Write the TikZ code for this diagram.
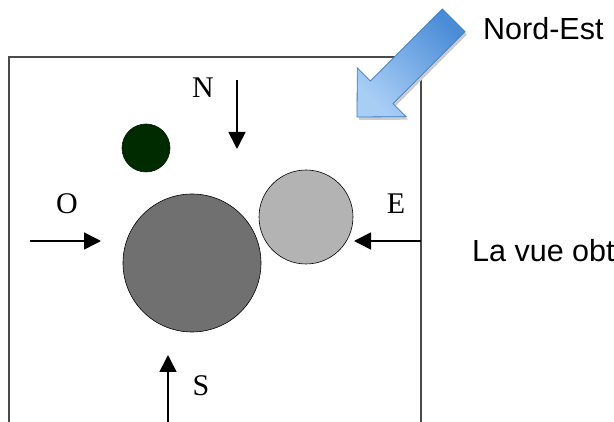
\documentclass[tikz,border=0pt]{standalone}
\usepackage{fontspec}
\setmainfont{Liberation Serif}
\newfontfamily\arialfont{Liberation Sans}
\usepackage{tikz}
\usetikzlibrary{arrows.meta}
\definecolor{boxgray}{HTML}{4A4A4A}
\definecolor{bigdisc}{HTML}{707070}
\definecolor{smalldisc}{HTML}{B3B3B3}
\definecolor{treedisc}{HTML}{002A00}
\definecolor{nedark}{HTML}{4A8CD6}
\definecolor{nelight}{HTML}{A9CEF6}
\definecolor{neline}{HTML}{3F7CC4}

\begin{document}
\begin{tikzpicture}[x=1pt, y=-1pt,
    disc/.style={circle, draw=black, line width=0.6pt, inner sep=0pt},
    dirlabel/.style={font=\fontsize{30}{34}\selectfont, inner sep=0pt},
    dirarrow/.style={line width=1.6pt, -{Triangle[length=17pt, width=17pt]}},
    sidetext/.style={font=\arialfont\fontsize{30.5}{34}\selectfont, anchor=base west, inner sep=0pt}
]
\useasboundingbox (0,0) rectangle (614,422);
% the scene
\draw[boxgray, line width=2pt] (9,440) -- (9,57) -- (421,57) -- (421,440);
\node[disc, fill=treedisc, draw=treedisc!60!black, minimum size=48pt](tree) at (146,148){};
\node[disc, fill=bigdisc, minimum size=138pt](bigrock) at (192,263){};
\node[disc, fill=smalldisc, minimum size=94pt](smallrock) at (306,217){};
% directions
\node[dirlabel](nlabel) at (203,88){N};
\node[dirlabel](olabel) at (67,204){O};
\node[dirlabel](elabel) at (396,204){E};
\node[dirlabel](slabel) at (201,386){S};
\coordinate (nstart) at (237,80);
\coordinate (nend) at (237,149);
\coordinate (ostart) at (30,241);
\coordinate (oend) at (101,241);
\coordinate (estart) at (421,241);
\coordinate (eend) at (354,241);
\coordinate (sstart) at (168,440);
\coordinate (send) at (168,355);
\draw[dirarrow] (nstart) -- (nend);
\draw[dirarrow] (ostart) -- (oend);
\draw[dirarrow] (estart) -- (eend);
\draw[dirarrow] (sstart) -- (send);
% north-east view arrow
\fill[black!20] (444.4,12) -- (467,34.6) -- (395,106.6) -- (408.1,119.7) -- (359,120) -- (359.3,70.9) -- (372.4,84) -- cycle;
\shade[top color=nedark, bottom color=nelight, shading angle=-45, draw=neline, line width=0.8pt]
    (442.4,9) -- (465,31.6) -- (393,103.6) -- (406.1,116.7) -- (357,117) -- (357.3,67.9) -- (370.4,81) -- cycle;
\node[sidetext](nordest) at (483,40){Nord-Est};
\node[sidetext](vue) at (472,262){La vue obt};
\end{tikzpicture}
\end{document}
